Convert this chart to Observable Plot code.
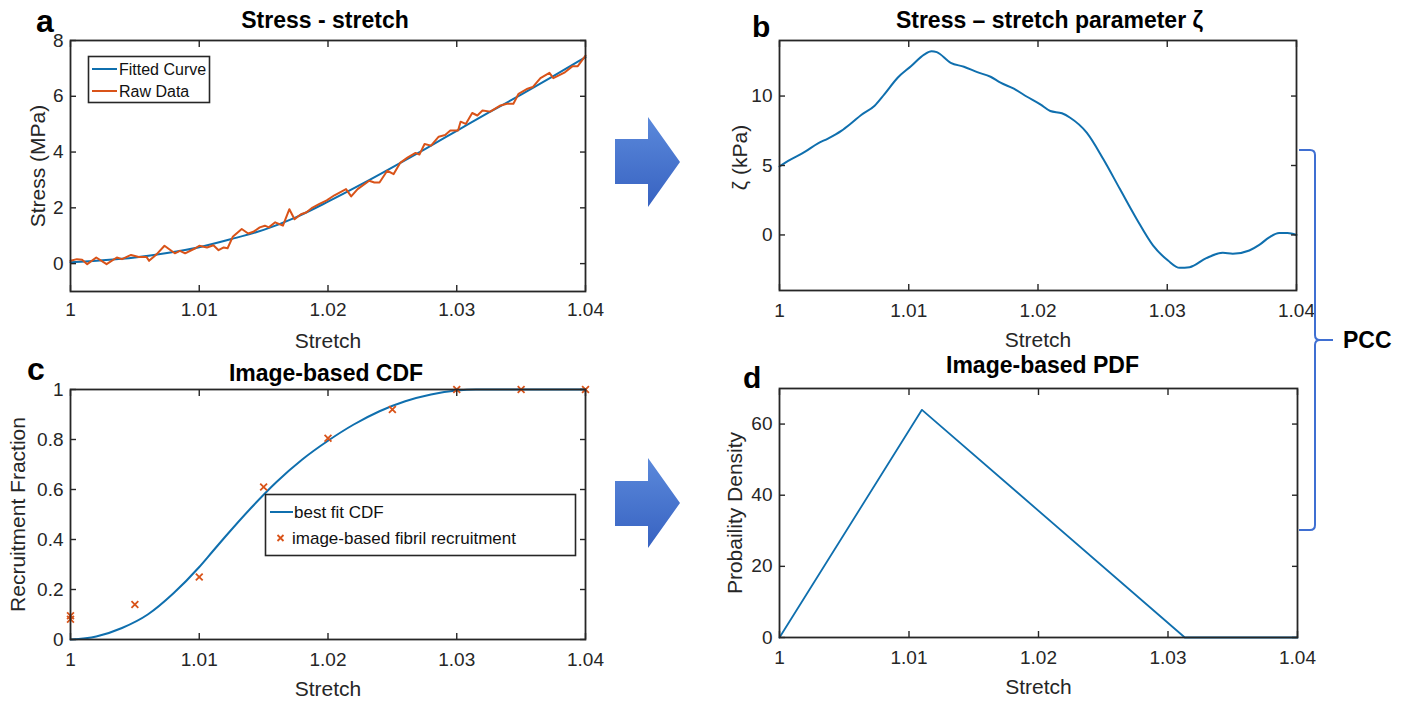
<!DOCTYPE html>
<html><head><meta charset="utf-8">
<script src="https://cdn.jsdelivr.net/npm/d3@7"></script>
<script src="https://cdn.jsdelivr.net/npm/@observablehq/plot@0.6"></script>
<style>
html,body{margin:0;padding:0;background:#fff;}
#root{position:relative;width:1410px;height:702px;overflow:hidden;background:#fff;font-family:"Liberation Sans",Arial,Helvetica,sans-serif;}
.panel{position:absolute;}
.panel svg{overflow:visible;}
#overlay{position:absolute;left:0;top:0;pointer-events:none;}
</style></head>
<body><div id="root"></div>
<script>
// ---------- shared ticks ----------
const xTickValues = [1, 1.01, 1.02, 1.03, 1.04];
const xTickLabels = ["1", "1.01", "1.02", "1.03", "1.04"];

// ---------- panel a: stress - stretch ----------
const stressYTicks = [0, 2, 4, 6, 8];
const stressYLabels = ["0", "2", "4", "6", "8"];
const fitStretch = [1.0, 1.0025, 1.005, 1.0075, 1.01, 1.0125, 1.015, 1.0175, 1.02, 1.0225, 1.025, 1.0275, 1.03, 1.0325, 1.035, 1.0375, 1.04];
const fitStress  = [0.05, 0.12, 0.22, 0.38, 0.59, 0.88, 1.21, 1.66, 2.22, 2.82, 3.45, 4.10, 4.76, 5.42, 6.06, 6.72, 7.40];
const rawStretch = [1.0, 1.0005, 1.0009, 1.0013, 1.002, 1.0028, 1.0036, 1.004, 1.0047, 1.0053, 1.0059, 1.0061, 1.0067, 1.0073, 1.0081, 1.0085, 1.0089, 1.0097, 1.0100, 1.0106, 1.0111, 1.0115, 1.0119, 1.0122, 1.0126, 1.0133, 1.0138, 1.0142, 1.0147, 1.0151, 1.0154, 1.0159, 1.0165, 1.0170, 1.0174, 1.0179, 1.0183, 1.0188, 1.0193, 1.0199, 1.0205, 1.0214, 1.0218, 1.0223, 1.0232, 1.0236, 1.0240, 1.0246, 1.0251, 1.0256, 1.0262, 1.0268, 1.0271, 1.0275, 1.0280, 1.0286, 1.0291, 1.0295, 1.0301, 1.0303, 1.0307, 1.0312, 1.0316, 1.0320, 1.0326, 1.0334, 1.0339, 1.0344, 1.0348, 1.0355, 1.0359, 1.0365, 1.0372, 1.0375, 1.0384, 1.0390, 1.0394, 1.0400];
const rawStress  = [0.10, 0.16, 0.14, -0.02, 0.22, -0.02, 0.22, 0.16, 0.31, 0.24, 0.24, 0.10, 0.34, 0.64, 0.37, 0.46, 0.37, 0.55, 0.64, 0.58, 0.66, 0.48, 0.58, 0.55, 0.96, 1.24, 1.08, 1.14, 1.30, 1.36, 1.30, 1.48, 1.36, 1.95, 1.59, 1.77, 1.83, 2.01, 2.13, 2.27, 2.45, 2.67, 2.41, 2.67, 2.97, 2.91, 2.91, 3.33, 3.21, 3.61, 3.81, 3.97, 3.91, 4.29, 4.23, 4.55, 4.61, 4.77, 4.77, 5.09, 5.01, 5.40, 5.31, 5.49, 5.45, 5.67, 5.73, 5.73, 6.09, 6.27, 6.33, 6.65, 6.84, 6.65, 6.86, 7.08, 7.08, 7.46];

// ---------- panel b: stress - stretch parameter zeta ----------
const zetaYTicks = [0, 5, 10];
const zetaYLabels = ["0", "5", "10"];
const zetaStretch = [1.0, 1.00067, 1.00195, 1.00298, 1.00375, 1.00478, 1.00555, 1.00632, 1.00734, 1.00811, 1.00914, 1.01017, 1.01119, 1.01176, 1.01217, 1.01325, 1.01427, 1.0153, 1.01633, 1.0171, 1.01813, 1.01915, 1.02018, 1.02095, 1.02185, 1.02249, 1.02377, 1.02506, 1.02634, 1.02763, 1.02891, 1.03006, 1.03096, 1.03173, 1.03302, 1.0343, 1.03507, 1.03635, 1.03712, 1.03789, 1.03866, 1.0393, 1.04];
const zetaKPa     = [4.93, 5.33, 5.98, 6.60, 6.94, 7.49, 8.04, 8.64, 9.28, 10.12, 11.32, 12.15, 12.99, 13.23, 13.16, 12.39, 12.11, 11.72, 11.39, 10.96, 10.53, 9.95, 9.40, 8.92, 8.76, 8.44, 7.37, 5.45, 3.30, 1.15, -0.77, -1.84, -2.37, -2.32, -1.67, -1.29, -1.36, -1.12, -0.72, -0.17, 0.14, 0.14, 0.0];

// ---------- panel c: image-based CDF ----------
const cdfYTicks = [0, 0.2, 0.4, 0.6, 0.8, 1];
const cdfYLabels = ["0", "0.2", "0.4", "0.6", "0.8", "1"];
const cdfStretch = [1, 1.002, 1.004, 1.006, 1.008, 1.010, 1.011, 1.012, 1.014, 1.016, 1.018, 1.020, 1.022, 1.024, 1.026, 1.028, 1.030, 1.0315, 1.04];
const cdfFraction = [0, 0.012, 0.046, 0.10, 0.185, 0.29, 0.35, 0.41, 0.525, 0.63, 0.72, 0.795, 0.86, 0.913, 0.953, 0.98, 0.996, 1, 1];
const recruitStretch = [1, 1, 1.005, 1.01, 1.015, 1.02, 1.025, 1.03, 1.035, 1.04];
const recruitFraction = [0.095, 0.081, 0.14, 0.25, 0.61, 0.805, 0.92, 1, 1, 1];

// ---------- panel d: image-based PDF ----------
const pdfYTicks = [0, 20, 40, 60];
const pdfYLabels = ["0", "20", "40", "60"];
const pdfStretch = [1, 1.011, 1.0313, 1.04];
const pdfDensity = [0, 64, 0, 0];

// ---------- style ----------
const AX = "#262626";
const BLUE = "#0f6fae";
const ORANGE = "#D95319";
const FONT = "Liberation Sans, Arial, Helvetica, sans-serif";

function fmt(values, labels) {
  return d => { const i = values.findIndex(v => Math.abs(v - d) < 1e-9); return i >= 0 ? labels[i] : ""; };
}
const T = d => d;

function axesMarks(yTicks, yLabels, xPad) {
  const tk = {stroke: AX, strokeWidth: 1.4, fill: "none", label: null};
  return [
    Plot.axisX(xTickValues, {anchor: "bottom", tickSize: 6, dy: -6, ...tk}),
    Plot.axisX(xTickValues, {anchor: "top", tickSize: 6, dy: 6, ...tk}),
    Plot.axisY(yTicks, {anchor: "left", tickSize: 6, dx: 6, ...tk}),
    Plot.axisY(yTicks, {anchor: "right", tickSize: 6, dx: -6, ...tk}),
    Plot.axisX(xTickValues, {anchor: "bottom", tickSize: 0, tickPadding: xPad, tickFormat: fmt(xTickValues, xTickLabels), fontSize: 19, fill: AX, label: null}),
    Plot.axisY(yTicks, {anchor: "left", tickSize: 0, tickPadding: 7, tickFormat: fmt(yTicks, yLabels), fontSize: 19, fill: AX, label: null}),
    Plot.frame({stroke: AX, strokeWidth: 1.8})
  ];
}

function labelMarks(title, tdx, tdy, ylabel, ydx, ydy) {
  const c = {textAnchor: "middle", lineAnchor: "middle"};
  return [
    Plot.text([title], {frameAnchor: "top", text: T, dx: tdx, dy: tdy, fontSize: 23, fontWeight: "bold", fill: "#000", ...c}),
    Plot.text(["Stretch"], {frameAnchor: "bottom", text: T, dy: 49.5, fontSize: 21, fill: AX, ...c}),
    Plot.text([ylabel], {frameAnchor: "left", text: T, dx: ydx, dy: ydy, rotate: -90, fontSize: 21, fill: AX, ...c})
  ];
}

function place(svg, left, top) {
  const div = document.createElement("div");
  div.className = "panel";
  div.style.left = left + "px";
  div.style.top = top + "px";
  div.appendChild(svg);
  document.getElementById("root").appendChild(div);
}

const common = {style: {fontFamily: FONT, overflow: "visible", background: "transparent"}};

// panel a
place(Plot.plot({
  ...common,
  width: 600, height: 360, marginLeft: 70, marginRight: 15, marginTop: 40, marginBottom: 69,
  x: {domain: [1, 1.04]}, y: {domain: [-1, 8]},
  marks: [
    Plot.line(fitStretch, {x: fitStretch, y: fitStress, stroke: BLUE, strokeWidth: 2, curve: "monotone-x"}),
    Plot.line(rawStretch, {x: rawStretch, y: rawStress, stroke: ORANGE, strokeWidth: 2, strokeLinejoin: "round"}),
    ...axesMarks(stressYTicks, stressYLabels, 11),
    ...labelMarks("Stress - stretch", -3, -20, "Stress (MPa)", -32.5, 0)
  ]
}), 0, 0);

// panel b
place(Plot.plot({
  ...common,
  width: 610, height: 360, marginLeft: 79, marginRight: 14, marginTop: 40, marginBottom: 70,
  x: {domain: [1, 1.04]}, y: {domain: [-4, 14]},
  marks: [
    Plot.line(zetaStretch, {x: zetaStretch, y: zetaKPa, stroke: BLUE, strokeWidth: 2, curve: "monotone-x"}),
    ...axesMarks(zetaYTicks, zetaYLabels, 13),
    ...labelMarks("Stress \u2013 stretch parameter \u03B6", 11.5, -20, "\u03B6 (kPa)", -39.5, -8)
  ]
}), 700, 0);

// panel c
place(Plot.plot({
  ...common,
  width: 600, height: 352, marginLeft: 70, marginRight: 15, marginTop: 39, marginBottom: 63,
  x: {domain: [1, 1.04]}, y: {domain: [0, 1]},
  marks: [
    Plot.line(cdfStretch, {x: cdfStretch, y: cdfFraction, stroke: BLUE, strokeWidth: 2, curve: "monotone-x"}),
    Plot.dot(recruitStretch, {x: recruitStretch, y: recruitFraction, symbol: "times", r: 3.2, stroke: ORANGE, strokeWidth: 1.8}),
    ...axesMarks(cdfYTicks, cdfYLabels, 13),
    ...labelMarks("Image-based CDF", -2, -16, "Recruitment Fraction", -52, 0)
  ]
}), 0, 350);

// panel d
place(Plot.plot({
  ...common,
  width: 610, height: 352, marginLeft: 79, marginRight: 13, marginTop: 38, marginBottom: 65,
  x: {domain: [1, 1.04]}, y: {domain: [0, 70]},
  marks: [
    Plot.line(pdfStretch, {x: pdfStretch, y: pdfDensity, stroke: BLUE, strokeWidth: 1.8}),
    ...axesMarks(pdfYTicks, pdfYLabels, 13),
    ...labelMarks("Image-based PDF", 4, -23, "Probaility Density", -44, 0)
  ]
}), 700, 350);

// ---------- overlay: legends, panel letters, arrows, bracket ----------
const NS = "http://www.w3.org/2000/svg";
const ov = document.createElementNS(NS, "svg");
ov.setAttribute("id", "overlay");
ov.setAttribute("width", 1410);
ov.setAttribute("height", 702);
ov.innerHTML = `
<defs>
  <linearGradient id="ag" x1="0" y1="0" x2="0" y2="1">
    <stop offset="0" stop-color="#5b89db"/>
    <stop offset="1" stop-color="#3762c1"/>
  </linearGradient>
</defs>
<g font-family="${FONT}">
  <rect x="88.5" y="56.5" width="121" height="46" fill="#fff" stroke="${AX}" stroke-width="1.6"/>
  <line x1="92" x2="117" y1="69" y2="69" stroke="${BLUE}" stroke-width="2"/>
  <text x="119" y="75" font-size="16" fill="#111">Fitted Curve</text>
  <line x1="92" x2="117" y1="91" y2="91" stroke="${ORANGE}" stroke-width="2"/>
  <text x="119" y="97" font-size="16" fill="#111">Raw Data</text>

  <rect x="265.5" y="494.5" width="310" height="61" fill="#fff" stroke="${AX}" stroke-width="1.6"/>
  <line x1="270" x2="293" y1="512" y2="512" stroke="${BLUE}" stroke-width="2"/>
  <text x="294" y="518" font-size="17" fill="#111">best fit CDF</text>
  <path d="M277.5,535 L283.5,541 M283.5,535 L277.5,541" stroke="${ORANGE}" stroke-width="1.8"/>
  <text x="292" y="544" font-size="17" fill="#111">image-based fibril recruitment</text>

  <text x="36" y="32" font-size="32" font-weight="bold" fill="#000">a</text>
  <text x="752" y="37" font-size="30" font-weight="bold" fill="#000">b</text>
  <text x="27" y="380" font-size="32" font-weight="bold" fill="#000">c</text>
  <text x="743" y="388" font-size="30" font-weight="bold" fill="#000">d</text>

  <polygon points="615,139 648,139 648,117 680,162 648,207 648,184 615,184" fill="url(#ag)"/>
  <polygon points="615,481 648,481 648,458 680,503 648,548 648,526 615,526" fill="url(#ag)"/>

  <path d="M1299,150 L1310,150 Q1315,150 1315,155 L1315,335 Q1315,340 1320,340 L1333,340 M1320,340 Q1315,340 1315,345 L1315,525 Q1315,530 1310,530 L1299,530" fill="none" stroke="#3f6fd2" stroke-width="2"/>
  <text x="1343" y="348" font-size="23" font-weight="bold" fill="#000">PCC</text>
</g>`;
document.getElementById("root").appendChild(ov);
</script>
</body></html>
